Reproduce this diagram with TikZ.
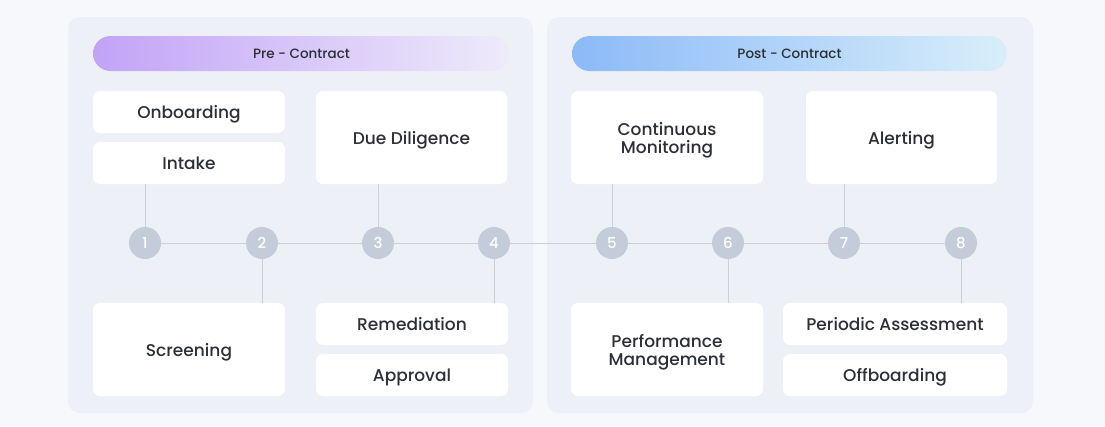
\documentclass[tikz,border=0pt]{standalone}
\usepackage{fontspec}
\setmainfont{Poppins}[UprightFont=* Medium]
\usepackage{tikz}
\usetikzlibrary{calc,positioning}
\usepackage{xcolor}
\definecolor{pagebg}{HTML}{F6F8FB}
\definecolor{panelbg}{HTML}{EDF1F7}
\definecolor{stepgray}{HTML}{C3CCD8}
\definecolor{linegray}{HTML}{C9D0DA}
\definecolor{txt}{HTML}{2B2F36}
\definecolor{preleft}{HTML}{C2A3F7}
\definecolor{premid}{HTML}{D8CCF9}
\definecolor{preright}{HTML}{EEEBFA}
\definecolor{postleft}{HTML}{8CBAF8}
\definecolor{postmid}{HTML}{8ED3F8}
\definecolor{postright}{HTML}{D8EEFA}

\begin{document}
\begin{tikzpicture}[x=1pt, y=-1pt,
    card/.style={fill=white, rounded corners=7pt, text=txt, font=\fontsize{17}{18}\selectfont,
        align=center, inner sep=0pt, text depth=0pt, minimum width=192pt},
    slim/.style={card, minimum height=42pt},
    tall/.style={card, minimum height=93pt},
    pill/.style={rounded corners=17.5pt, minimum width=417pt, minimum height=35pt,
        inner sep=0pt, text=txt, font=\fontsize{13.5}{14}\selectfont},
    stepdot/.style={circle, fill=stepgray, minimum size=32pt, inner sep=0pt,
        text=white, font=\fontsize{15}{15}\selectfont},
    link/.style={linegray, line width=1pt}]

    % background and the two panels
    \fill[pagebg] (0,0) rectangle (1105,426);
    \fill[panelbg, rounded corners=12pt] (68,17) rectangle (533,413);
    \fill[panelbg, rounded corners=12pt] (547,17) rectangle (1033,413);

    % phase headers
    \node[pill, left color=preleft, middle color=premid, right color=preright]
        (pre) at (301.5,53.5) {Pre - Contract};
    \node[pill, minimum width=435pt, left color=postleft, middle color=postmid, right color=postright]
        (post) at (789.5,53.5) {Post - Contract};

    % upper cards
    \node[slim] (onboard) at (189,112) {Onboarding};
    \node[slim] (intake) at (189,163) {Intake};
    \node[tall, minimum width=191pt] (due) at (411.5,137.5) {Due Diligence};
    \node[tall] (monitor) at (667,137.5) {Continuous\\Monitoring};
    \node[tall, minimum width=191pt] (alert) at (901.5,137.5) {Alerting};

    % lower cards
    \node[tall] (screen) at (189,349.5) {Screening};
    \node[slim] (remedy) at (412,324) {Remediation};
    \node[slim] (approve) at (412,375) {Approval};
    \node[tall] (perform) at (667,349.5) {Performance\\Management};
    \node[slim, minimum width=224pt] (periodic) at (895,324) {Periodic Assessment};
    \node[slim, minimum width=224pt] (offboard) at (895,375) {Offboarding};

    % numbered steps on the timeline
    \foreach \n/\x in {1/145,2/262,3/378,4/494,5/612,6/728,7/844,8/961} {
        \node[stepdot] (s\n) at (\x,243) {\n};
    }
    \foreach \n [evaluate=\n as \m using int(\n+1)] in {1,...,7} {
        \draw[link] (s\n) -- (s\m);
    }

    % ticks up and down to the cards
    \draw[link] (s1) -- (s1 |- intake.south);
    \draw[link] (s3) -- (s3 |- due.south);
    \draw[link] (s5) -- (s5 |- monitor.south);
    \draw[link] (s7) -- (s7 |- alert.south);
    \draw[link] (s2) -- (s2 |- screen.north);
    \draw[link] (s4) -- (s4 |- remedy.north);
    \draw[link] (s6) -- (s6 |- perform.north);
    \draw[link] (s8) -- (s8 |- periodic.north);
\end{tikzpicture}
\end{document}
